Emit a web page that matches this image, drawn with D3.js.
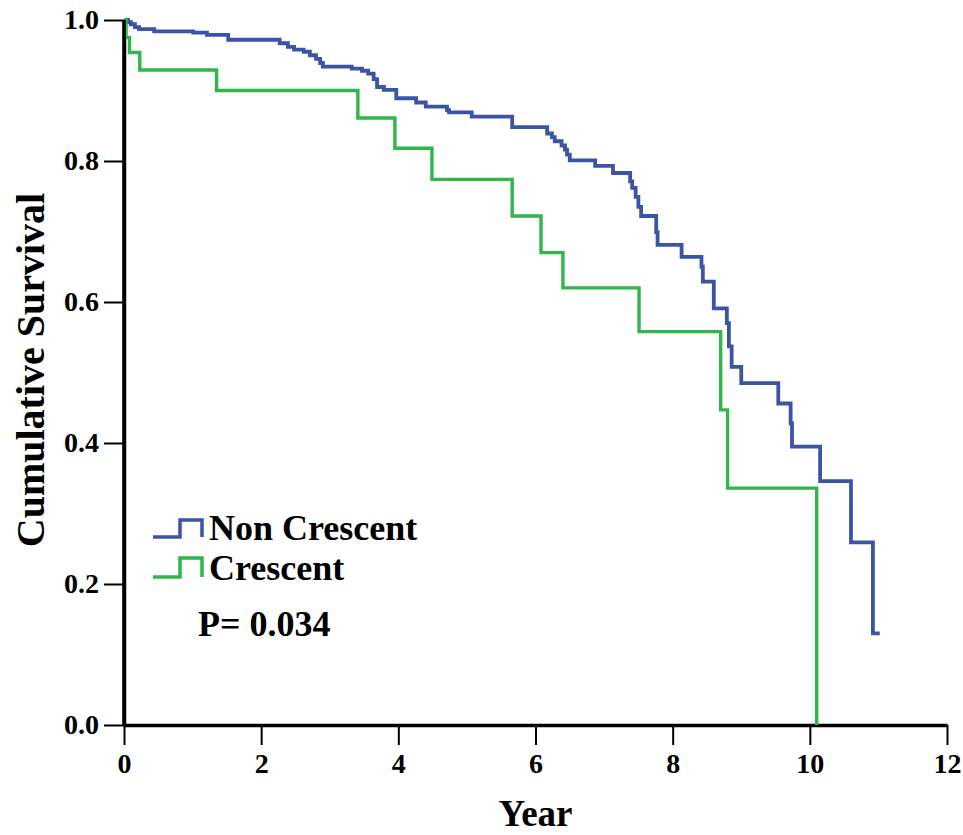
<!DOCTYPE html>
<html>
<head>
<meta charset="utf-8">
<script src="https://cdn.jsdelivr.net/npm/d3@7/dist/d3.min.js"></script>
<style>
  html, body { margin: 0; padding: 0; background: #fff; }
  svg { display: block; }
  text { font-family: "Liberation Serif", "Times New Roman", serif; font-weight: bold; fill: #000; }
</style>
</head>
<body>
<svg id="chart" width="963" height="835"></svg>
<script>
// ---- Data ----
const xTicks = [0, 2, 4, 6, 8, 10, 12];
const yTicks = [0.0, 0.2, 0.4, 0.6, 0.8, 1.0];

// Non Crescent: event times (years) and survival after each step
const nonCrescentTimes = [0, 0.06, 0.10, 0.16, 0.22, 0.44, 1.01, 1.21, 1.52, 2.27, 2.39, 2.48, 2.62, 2.71, 2.80, 2.86, 2.90,
  3.32, 3.47, 3.56, 3.64, 3.69, 3.79, 3.97, 4.26, 4.40, 4.71, 4.74, 5.07, 5.66, 6.17, 6.24, 6.28, 6.38, 6.43, 6.46, 6.50,
  6.87, 7.13, 7.38, 7.41, 7.46, 7.50, 7.54, 7.76, 7.78, 8.13, 8.42, 8.44, 8.60, 8.79, 8.82, 8.86, 9.00, 9.54, 9.72, 9.74,
  10.15, 10.60, 10.92, 11.02];
const nonCrescentSurv = [1.000, 0.997, 0.994, 0.990, 0.987, 0.984, 0.982, 0.979, 0.972, 0.967, 0.962, 0.958, 0.955, 0.950, 0.945, 0.939, 0.934,
  0.931, 0.928, 0.924, 0.916, 0.905, 0.901, 0.889, 0.883, 0.877, 0.872, 0.869, 0.863, 0.848, 0.839, 0.834, 0.828, 0.822, 0.816, 0.809, 0.801,
  0.793, 0.783, 0.771, 0.762, 0.749, 0.735, 0.722, 0.699, 0.681, 0.664, 0.650, 0.629, 0.591, 0.570, 0.537, 0.508, 0.485, 0.456, 0.428, 0.395,
  0.346, 0.259, 0.130, 0.130];

// Crescent
const crescentTimes = [0, 0.03, 0.08, 0.23, 1.35, 3.41, 3.95, 4.49, 5.66, 6.08, 6.40, 7.51, 8.70, 8.80, 10.10];
const crescentSurv  = [1.000, 0.975, 0.954, 0.929, 0.900, 0.861, 0.818, 0.774, 0.722, 0.670, 0.620, 0.558, 0.447, 0.336, 0.000];

const seriesNames = ["Non Crescent", "Crescent"];
const seriesColors = ["#3B54A6", "#2FB74B"];
const pValueText = "P= 0.034";

// ---- Chart ----
const svg = d3.select("#chart");
const x = d3.scaleLinear().domain([0, 12]).range([124, 947]);
const y = d3.scaleLinear().domain([0, 1]).range([725, 20]);

const line = d3.line()
  .x(d => x(d[0]))
  .y(d => y(d[1]))
  .curve(d3.curveStepAfter);

const series = [
  d3.zip(nonCrescentTimes, nonCrescentSurv),
  d3.zip(crescentTimes, crescentSurv)
];

// axes
const yAxis = d3.axisLeft(y).tickValues(yTicks).tickFormat(d3.format(".1f"))
  .tickSize(20).tickSizeOuter(0).tickPadding(5);
const xAxis = d3.axisBottom(x).tickValues(xTicks).tickFormat(d3.format("d"))
  .tickSize(20).tickSizeOuter(0).tickPadding(8);

const gy = svg.append("g").attr("transform", `translate(${x(0)},0)`).call(yAxis);
const gx = svg.append("g").attr("transform", `translate(0,${y(0)})`).call(xAxis);

[gy, gx].forEach(g => {
  g.select(".domain").attr("stroke", "#000").attr("stroke-width", 3.5);
  g.selectAll(".tick line").attr("stroke", "#000").attr("stroke-width", 2);
  g.selectAll(".tick text").attr("font-size", 28)
    .attr("font-family", "'Liberation Serif', 'Times New Roman', serif")
    .attr("font-weight", "bold").attr("fill", "#000");
});

// curves
series.forEach((s, i) => {
  svg.append("path")
    .datum(s)
    .attr("fill", "none")
    .attr("stroke", seriesColors[i])
    .attr("stroke-width", i === 0 ? 3.8 : 3.4)
    .attr("stroke-linejoin", "miter")
    .attr("d", line);
});

// redraw y axis line on top
svg.append("line").attr("x1", x(0)).attr("x2", x(0)).attr("y1", y(1)).attr("y2", y(0))
  .attr("stroke", "#000").attr("stroke-width", 3.5);

// axis titles
svg.append("text")
  .attr("x", (x(0) + x(12)) / 2)
  .attr("y", 826)
  .attr("text-anchor", "middle")
  .attr("font-size", 37)
  .text("Year");

svg.append("text")
  .attr("transform", `translate(44,${370}) rotate(-90)`)
  .attr("text-anchor", "middle")
  .attr("font-size", 40)
  .text("Cumulative Survival");

// legend
const legendY = [537, 577];
const legendTop = [520, 558];
seriesNames.forEach((name, i) => {
  svg.append("path")
    .attr("fill", "none")
    .attr("stroke", seriesColors[i])
    .attr("stroke-width", 3.5)
    .attr("d", `M153,${legendY[i]}H180V${legendTop[i]}H202V${legendY[i]}`);
  svg.append("text")
    .attr("x", 209)
    .attr("y", legendY[i] + 3)
    .attr("font-size", 36)
    .text(name);
});

svg.append("text")
  .attr("x", 198)
  .attr("y", 636)
  .attr("font-size", 36)
  .text(pValueText);
</script>
</body>
</html>
